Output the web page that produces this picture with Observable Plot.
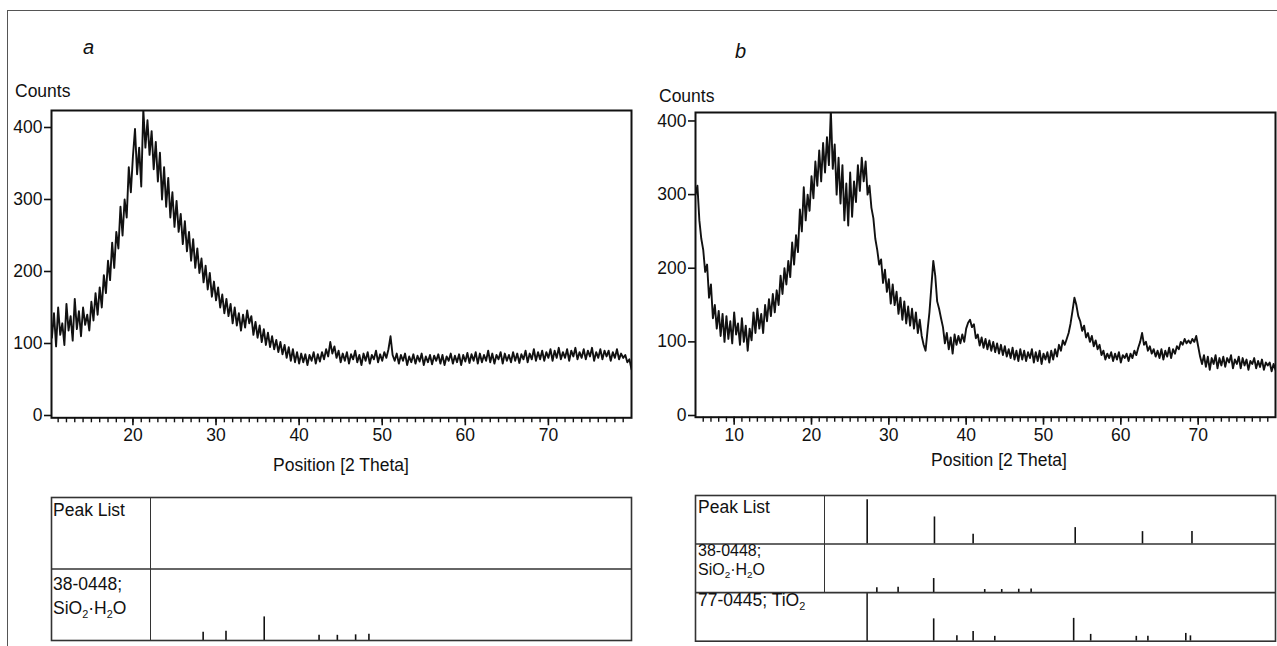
<!DOCTYPE html>
<html><head><meta charset="utf-8">
<script src="https://cdn.jsdelivr.net/npm/d3@7"></script>
<script src="https://cdn.jsdelivr.net/npm/@observablehq/plot@0.6"></script>
<style>
body{margin:0;background:#fff;}
#fig{position:relative;width:1277px;height:646px;overflow:hidden;background:#fff;
 font-family:"Liberation Sans",Arial,sans-serif;color:#111;}
.box{position:absolute;}
.t{position:absolute;white-space:nowrap;font-size:17.5px;line-height:16px;}
.t sub{font-size:0.62em;vertical-align:-0.35em;line-height:0;}
.it{font-style:italic;font-size:20px;}
.sm{font-size:16px;}
.cell{position:absolute;border-right:1.6px solid #333;box-sizing:border-box;}
</style></head><body><div id="fig"></div>
<script>
// ---------- data ----------
// panel a: 2theta from 10.25 to 80.00, step 0.25
const startA = 10.25, stepA = 0.25;
const countsA = [
108,142,96,150,112,128,98,155,
118,138,104,162,120,145,110,150,
126,140,118,158,132,170,140,178,
150,195,170,215,188,240,205,255,
232,290,250,300,275,345,310,360,
398,335,372,318,425,372,410,362,
395,342,380,325,365,300,345,290,
330,275,310,262,298,255,280,238,
270,228,255,215,245,205,232,198,
218,185,208,175,198,165,186,160,
178,150,168,142,162,138,155,128,
150,125,142,118,140,122,146,128,
138,112,130,108,125,102,120,98,
115,95,110,92,105,88,102,85,
98,80,95,76,92,74,88,72,
86,74,85,70,84,76,88,72,
85,75,88,78,92,82,102,86,
96,80,90,74,86,76,88,72,
85,78,90,74,84,70,86,76,
88,72,84,78,90,74,85,76,
88,80,92,110,84,76,86,72,
84,76,86,70,82,74,85,72,
83,75,86,70,82,74,84,71,
83,76,85,72,84,70,82,76,
86,72,83,74,85,70,84,75,
87,73,85,76,88,72,86,74,
84,76,90,74,86,72,84,78,
88,72,86,76,84,74,88,76,
86,73,85,78,90,74,86,78,
92,76,88,78,90,76,88,80,
92,76,90,80,94,78,88,80,
92,76,90,82,94,78,88,80,
92,78,90,82,94,76,88,80,
92,78,90,82,90,76,88,80,
92,78,86,80,84,74,78,64
];
// panel b: 2theta from 5.00 to 80.00, step 0.25
const startB = 5.0, stepB = 0.25;
const countsB = [
300,312,265,240,225,195,205,160,
178,132,150,118,142,108,138,100,
135,104,128,98,140,110,125,96,
132,100,122,88,118,102,140,112,
145,118,138,112,150,128,158,135,
165,140,170,150,190,165,200,178,
210,188,235,205,245,222,280,250,
310,265,300,278,325,295,345,312,
360,318,370,330,378,340,415,335,
368,300,350,288,340,265,315,258,
330,270,318,290,340,305,350,318,
345,300,312,282,268,240,225,205,
212,180,198,168,185,152,178,150,
168,138,160,130,155,125,148,122,
145,118,140,112,130,108,96,88,
115,140,175,210,190,155,145,132,
120,98,112,90,106,84,110,96,
108,98,110,100,118,126,130,120,
124,105,110,95,106,92,104,90,
102,88,100,86,98,84,96,82,
94,80,90,78,92,76,88,74,
90,76,88,74,86,78,90,72,
86,74,88,70,84,76,86,72,
88,76,90,80,96,88,102,96,
104,112,125,142,160,150,135,128,
115,122,106,112,100,108,94,102,
90,96,82,88,76,84,78,86,
74,84,76,86,72,82,78,84,
74,84,78,88,82,92,100,112,
96,100,88,94,84,90,80,88,
78,90,76,88,80,92,78,90,
84,94,90,100,96,104,98,102,
98,104,100,108,94,80,70,82,
66,80,62,78,70,82,64,78,
68,80,66,78,72,82,64,76,
70,80,64,78,68,76,62,74,
70,78,64,74,66,76,62,72,
68,72,60,70,62
];
const yTicks = [0, 100, 200, 300, 400];
const xTicksA = [20, 30, 40, 50, 60, 70];
const xTicksB = [10, 20, 30, 40, 50, 60, 70];
// reference patterns (2theta, relative intensity)
const peakListPos = [27.2, 35.9, 40.9, 54.1, 62.8, 69.2];
const peakListInt = [100, 61, 22, 37, 28, 28];
const sio2Pos = [28.45, 31.2, 35.8, 42.4, 44.6, 46.8, 48.4];
const sio2Int = [35, 39, 100, 22, 22, 24, 26];
const tio2Pos = [27.2, 35.8, 38.8, 40.9, 43.7, 53.9, 56.1, 62.0, 63.5, 68.4, 69.0];
const tio2Int = [100, 46, 11, 20, 10, 47, 14, 10, 10, 16, 11];
const rowLabelsA = ["Peak List", "38-0448;<br>SiO<sub>2</sub>·H<sub>2</sub>O"];
const rowLabelsB = ["Peak List", "38-0448;<br>SiO<sub>2</sub>·H<sub>2</sub>O", "77-0445; TiO<sub>2</sub>"];

// ---------- build ----------
const FONT = '"Liberation Sans",Arial,sans-serif';
const fig = document.getElementById("fig");
function place(node, left, top, w) {
  const d = document.createElement("div");
  d.className = "box"; d.style.left = left + "px"; d.style.top = top + "px";
  if (w) d.style.width = w + "px";
  d.appendChild(node); fig.appendChild(d); return d;
}
function text(html, left, top, cls, center, lh) {
  const d = document.createElement("div");
  d.className = "t" + (cls ? " " + cls : "");
  d.innerHTML = html;
  d.style.left = left + "px"; d.style.top = top + "px";
  if (lh) d.style.lineHeight = lh + "px";
  if (center) d.style.transform = "translateX(-50%)";
  fig.appendChild(d); return d;
}
function series(start, step, arr) { return arr.map((v, i) => ({x: start + i * step, y: v})); }
function sticks(pos, ints, row, scale) { return pos.map((p, i) => ({x: p, y1: row + 1, y2: row + 1 - ints[i] / 100 * scale})); }

function xrdPlot(cfg) {
  return Plot.plot({
    width: cfg.width, height: 380,
    marginLeft: cfg.ml, marginRight: cfg.mr, marginTop: cfg.mt, marginBottom: cfg.mb,
    x: {domain: cfg.xd}, y: {domain: cfg.yd},
    style: {fontFamily: FONT, fontSize: "17.5px", color: "#111", background: "transparent", overflow: "visible"},
    marks: [
      Plot.line(series(cfg.start, cfg.step, cfg.counts), {x: "x", y: "y", stroke: "#111", strokeWidth: 1.9, strokeLinejoin: "round", clip: true}),
      Plot.frame({stroke: "#111", strokeWidth: 2}),
      Plot.axisY({ticks: yTicks, tickSize: 7, tickPadding: 2, label: null, strokeWidth: 1.6, fontSize: 17.5}),
      Plot.axisX({ticks: cfg.major, tickSize: 8, tickPadding: 3, label: null, strokeWidth: 1.6, fontSize: 17.5}),
      Plot.axisX({ticks: cfg.minor, tickSize: 5, tickFormat: () => "", label: null, strokeWidth: 1.4})
    ]
  });
}
function tablePlot(cfg) {
  return Plot.plot({
    width: cfg.width, height: cfg.h,
    marginLeft: cfg.ml, marginRight: cfg.mr, marginTop: cfg.mt, marginBottom: cfg.mb,
    x: {domain: cfg.xd, axis: null}, y: {domain: [0, cfg.rows], reverse: true, axis: null},
    style: {background: "transparent", overflow: "visible"},
    marks: [
      ...cfg.sticks.map(s => Plot.ruleX(s, {x: "x", y1: "y1", y2: "y2", stroke: "#111", strokeWidth: 1.6})),
      Plot.ruleY(d3.range(1, cfg.rows), {stroke: "#333", strokeWidth: 1.6}),
      Plot.frame({stroke: "#333", strokeWidth: 1.6})
    ]
  });
}

// outer border (top and left)
const border = document.createElement("div");
border.style.cssText = "position:absolute;left:7px;top:10px;width:1300px;height:700px;border-left:1.6px solid #555;border-top:1.6px solid #555;";
fig.appendChild(border);

// panel a
place(xrdPlot({width: 640, ml: 51, mr: 9, mt: 10, mb: 62.7, xd: [10.2, 80], yd: [-3.2, 423.6],
  start: startA, step: stepA, counts: countsA, major: xTicksA, minor: d3.range(11, 80)}), 0, 100, 640);
// panel b
place(xrdPlot({width: 637, ml: 55, mr: 2, mt: 12, mb: 63.3, xd: [5, 80], yd: [-2.3, 411.5],
  start: startB, step: stepB, counts: countsB, major: xTicksB, minor: d3.range(6, 80)}), 640, 100, 637);

// tables
place(tablePlot({width: 640, h: 156, ml: 51, mr: 9, mt: 7, mb: 6, xd: [10.2, 80], rows: 2,
  sticks: [sticks(sio2Pos, sio2Int, 1, 0.33)]}), 0, 490, 640);
place(tablePlot({width: 637, h: 158, ml: 55, mr: 2, mt: 7, mb: 5.3, xd: [5, 80], rows: 3,
  sticks: [sticks(peakListPos, peakListInt, 0, 0.915), sticks(sio2Pos, sio2Int, 1, 0.29), sticks(tio2Pos, tio2Int, 2, 1.0)]}), 640, 488, 637);

// label cells
function cell(left, top, w, h) {
  const c = document.createElement("div"); c.className = "cell";
  c.style.left = left + "px"; c.style.top = top + "px"; c.style.width = w + "px"; c.style.height = h + "px";
  fig.appendChild(c);
}
cell(51, 497, 99.5, 143);
cell(695, 495, 130.3, 96.7);
cell(695, 591.7, 172.5, 49);

// texts
text("a", 83, 39, "it");
text("b", 735, 43, "it");
text("Counts", 15, 83);
text("Counts", 659, 88);
text("Position [2 Theta]", 341, 457, "", true);
text("Position [2 Theta]", 999, 452, "", true);
text(rowLabelsA[0], 53, 502);
text(rowLabelsA[1], 53, 572, "", false, 24);
text(rowLabelsB[0], 698, 499);
text(rowLabelsB[1], 698, 541, "sm", false, 19);
text(rowLabelsB[2], 698, 592);
</script></body></html>
